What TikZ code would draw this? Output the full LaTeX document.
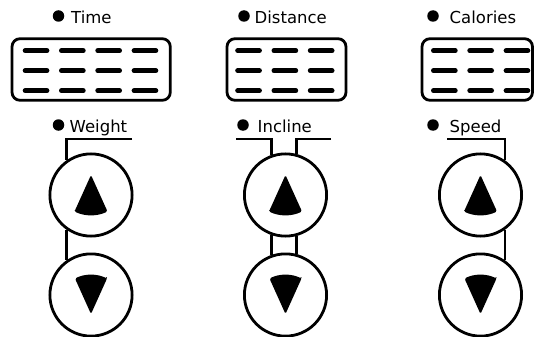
\documentclass[tikz,border=0pt]{standalone}
\usepackage{fontspec}
\setmainfont{DejaVu Sans}

\tikzset{
  display/.style={line width=2.8pt, rounded corners=8pt},
  segments/.style={line width=5pt, line cap=round, dash pattern={on 21.7pt off 14.6pt}},
  keyring/.style={circle, draw, fill=white, line width=2.8pt, minimum size=82.2pt, inner sep=0pt},
  bullet/.style={circle, fill=black, minimum size=11.5pt, inner sep=0pt},
  caption/.style={anchor=base west, inner sep=0pt, font=\fontsize{16.5}{18}\selectfont},
  wire/.style={line width=2.6pt},
  uptri/.pic={\fill [rounded corners=1.5pt] (-16.5,-16.5) -- (0,20) -- (16.5,-16.5) .. controls (6,-21.5) and (-6,-21.5) .. cycle ;},
  downtri/.pic={\fill [rounded corners=1.5pt] (16,16.5) -- (0,-19) -- (-16,16.5) .. controls (-6,21.5) and (6,21.5) .. cycle ;}
}

\begin{document}
\begin{tikzpicture}[x=1pt,y=1pt,yscale=-1]
\useasboundingbox (0,0) rectangle (535,337);

%Displays
\draw [display] (12,38.7) rectangle (170.3,100.3);
\draw [display] (227,38.7) rectangle (346,100.3);
\draw [display] (422,38.7) rectangle (532.5,100.3);
%Display segments
\draw [segments] (25.2,50.7) -- (156,50.7);
\draw [segments] (25.2,70.7) -- (156,70.7);
\draw [segments] (25.2,90.7) -- (156,90.7);
\draw [segments] (237.7,50.7) -- (332.5,50.7);
\draw [segments] (237.7,70.7) -- (332.5,70.7);
\draw [segments] (237.7,90.7) -- (332.5,90.7);
\draw [segments] (433.5,50.7) -- (528,50.7);
\draw [segments] (433.5,70.7) -- (528,70.7);
\draw [segments] (433.5,90.7) -- (528,90.7);

% Top labels
\node [bullet] (timedot) at (58.5,16) {};
\node [caption] (time) at (71,24) {Time};
\node [bullet] (distdot) at (244,16) {};
\node [caption] (dist) at (254.5,24) {Distance};
\node [bullet] (caldot) at (433,16) {};
\node [caption] (cal) at (449.5,24) {Calories};

% Key labels
\node [bullet] (weightdot) at (58.5,125) {};
\node [caption] (weight) at (69.5,132) {Weight};
\node [bullet] (inclinedot) at (243,125) {};
\node [caption] (incline) at (257.5,132) {Incline};
\node [bullet] (speeddot) at (433,125) {};
\node [caption] (speed) at (449.5,132) {Speed};

% Keys
\node [keyring] (wup) at (91,195) {};
\node [keyring] (wdown) at (91,295) {};
\node [keyring] (iup) at (285.5,195) {};
\node [keyring] (idown) at (285.5,295) {};
\node [keyring] (sup) at (480.5,195) {};
\node [keyring] (sdown) at (480.5,295) {};
\pic at (wup) {uptri};
\pic at (wdown) {downtri};
\pic at (iup) {uptri};
\pic at (idown) {downtri};
\pic at (sup) {uptri};
\pic at (sdown) {downtri};

% Wiring
\coordinate (wend) at (132,139);
\coordinate (iendl) at (236,139);
\coordinate (iendr) at (331,139);
\coordinate (send) at (447,139);
\draw [wire] (wend) -| (wup.125);
\draw [wire] (wup.235) -- (wdown.125);
\draw [wire] (iendl) -| (iup.109);
\draw [wire] (iendr) -| (iup.75);
\draw [wire] (iup.251) -- (idown.109);
\draw [wire] (iup.285) -- (idown.75);
\draw [wire] (send) -| (sup.55);
\draw [wire] (sup.305) -- (sdown.55);

\end{tikzpicture}
\end{document}
